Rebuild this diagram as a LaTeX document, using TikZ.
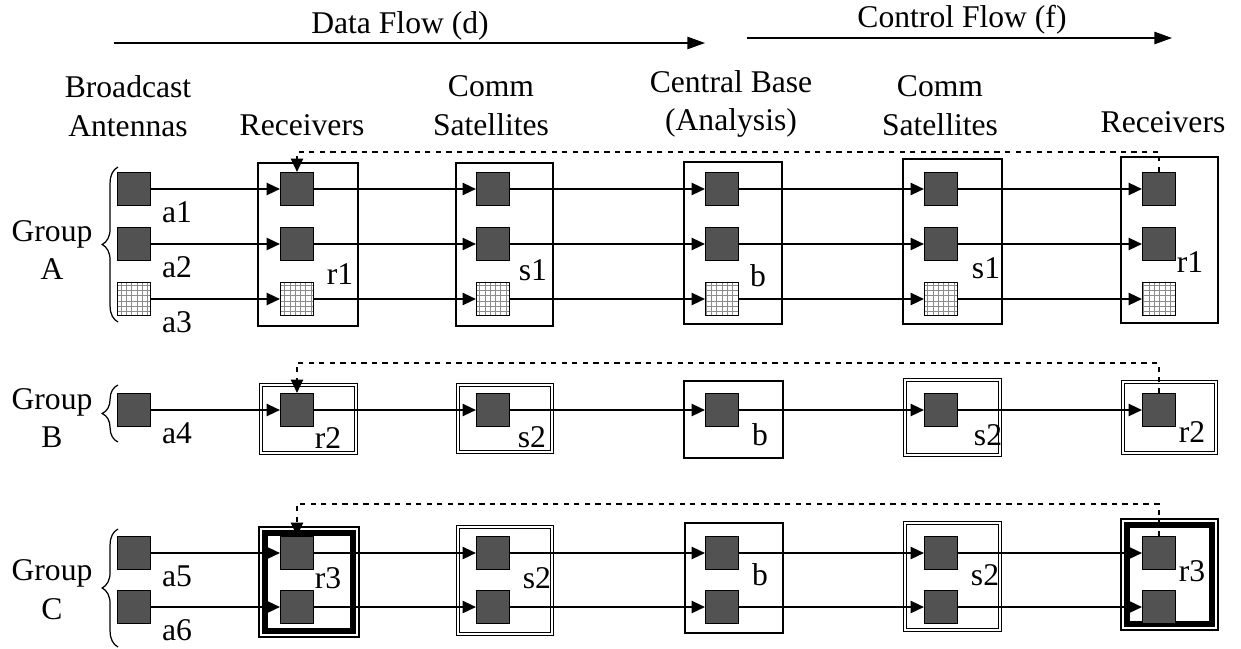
\documentclass[tikz,border=0pt]{standalone}
\usepackage{fontspec}
\setmainfont{Liberation Serif}
\usetikzlibrary{arrows.meta,patterns,decorations.pathreplacing,calc}

\tikzset{
  unit/.style={draw, fill=black!68, minimum size=0.66cm, inner sep=0pt},
  meshunit/.style={draw, pattern=grid, pattern color=black!45, minimum size=0.66cm, inner sep=0pt},
  flow/.style={-{Triangle[length=7.5pt,width=7pt]}},
  feedback/.style={dashed, -{Triangle[length=7.5pt,width=7pt]}},
  stage/.style={line width=0.7pt},
  dblstage/.style={double, double distance=1.6pt, line width=0.6pt},
  heavystage/.style={line width=3pt},
  grp/.style={decorate, decoration={brace, amplitude=9pt}, line width=0.7pt},
  head/.style={line width=0.8pt, -{Triangle[length=10pt,width=7pt]}}
}

\begin{document}
\begin{tikzpicture}[x=0.02cm, y=-0.02cm, font=\fontsize{18}{22}\selectfont, line width=0.7pt]
\useasboundingbox (0,0) rectangle (1241,649);

% flow directions
\coordinate (ds) at (114,43); \coordinate (de) at (705,43);
\coordinate (cs) at (747,38); \coordinate (ce) at (1172,38);
\draw[head] (ds) -- (de);
\draw[head] (cs) -- (ce);
\node (dtitle) at (400,26) {Data Flow (d)};
\node (ctitle) at (962,20) {Control Flow (f)};

% column titles
\node[align=center] (tant) at (128,106) {Broadcast\\Antennas};
\node (trx) at (302,125) {Receivers};
\node[align=center] (tsat) at (491,106) {Comm\\Satellites};
\node[align=center] (tbase) at (731,104) {Central Base\\(Analysis)};
\node[align=center] (tsat2) at (940,106) {Comm\\Satellites};
\node (trx2) at (1163,122) {Receivers};

% stage boxes, group A
\draw[stage] (258,163) rectangle (358,326);
\draw[stage] (456,163) rectangle (553,326);
\draw[stage] (684,162) rectangle (782,324);
\draw[stage] (903,159) rectangle (1002,324);
\draw[stage] (1121,157) rectangle (1218,323);
% group B
\draw[dblstage] (261,385) rectangle (356,453);
\draw[dblstage] (458,385) rectangle (552,452);
\draw[stage] (684,381) rectangle (783,458);
\draw[dblstage] (905,380) rectangle (1000,455);
\draw[dblstage] (1123,382) rectangle (1216,453);
% group C
\draw[stage] (259,527) rectangle (359,637);
\draw[heavystage] (265,533) rectangle (353,631);
\draw[dblstage] (458,527) rectangle (552,634);
\draw[stage] (685,523) rectangle (783,633);
\draw[dblstage] (905,523) rectangle (1000,630);
\draw[stage] (1121,519) rectangle (1218,630);
\draw[heavystage] (1127,525) rectangle (1212,624);

% units
\foreach \col/\x in {ant/134, rx/297, sat/493, base/722, sat2/941, rx2/1159} {
  \node[unit] (\col-1) at (\x,189) {};
  \node[unit] (\col-2) at (\x,244) {};
  \node[meshunit] (\col-3) at (\x,299) {};
  \node[unit] (\col-4) at (\x,410) {};
  \node[unit] (\col-5) at (\x,553) {};
  \node[unit] (\col-6) at (\x,607) {};
}

% data and control links
\foreach \k in {1,...,6}
  \foreach \p/\q in {ant/rx, rx/sat, sat/base, base/sat2, sat2/rx2}
    \draw[flow] (\p-\k) -- (\q-\k);

% feedback to receivers
\coordinate (fbA) at (297,152);
\coordinate (fbB) at (297,363);
\coordinate (fbC) at (297,504);
\draw[feedback] (rx2-1.north) |- (fbA) -- (rx-1.north);
\draw[feedback] (rx2-4.north) |- (fbB) -- (rx-4.north);
\draw[feedback] (rx2-5.north) |- (fbC) -- (rx-5.north);

% antenna labels
\foreach \k in {1,...,6}
  \node (la\k) at ($(ant-\k)+(43,23)$) {a\k};

% stage labels
\node (lr1) at (340,274) {r1};
\node (ls1) at (533,270) {s1};
\node (lb1) at (758,276) {b};
\node (ls1r) at (986,268) {s1};
\node (lr1r) at (1190,262) {r1};
\node (lr2) at (328,438) {r2};
\node (ls2) at (532,437) {s2};
\node (lb2) at (760,435) {b};
\node (ls2r) at (988,435) {s2};
\node (lr2r) at (1192,432) {r2};
\node (lr3) at (328,578) {r3};
\node (ls3) at (537,578) {s2};
\node (lb3) at (760,575) {b};
\node (ls3r) at (985,575) {s2};
\node (lr3r) at (1192,571) {r3};

% groups
\draw[grp] (118,322) -- (118,167);
\draw[grp] (118,442) -- (118,385);
\draw[grp] (118,647) -- (118,529);
\node[align=center] (gA) at (52,250) {Group\\A};
\node[align=center] (gB) at (52,418) {Group\\B};
\node[align=center] (gC) at (52,590) {Group\\C};
\end{tikzpicture}
\end{document}
